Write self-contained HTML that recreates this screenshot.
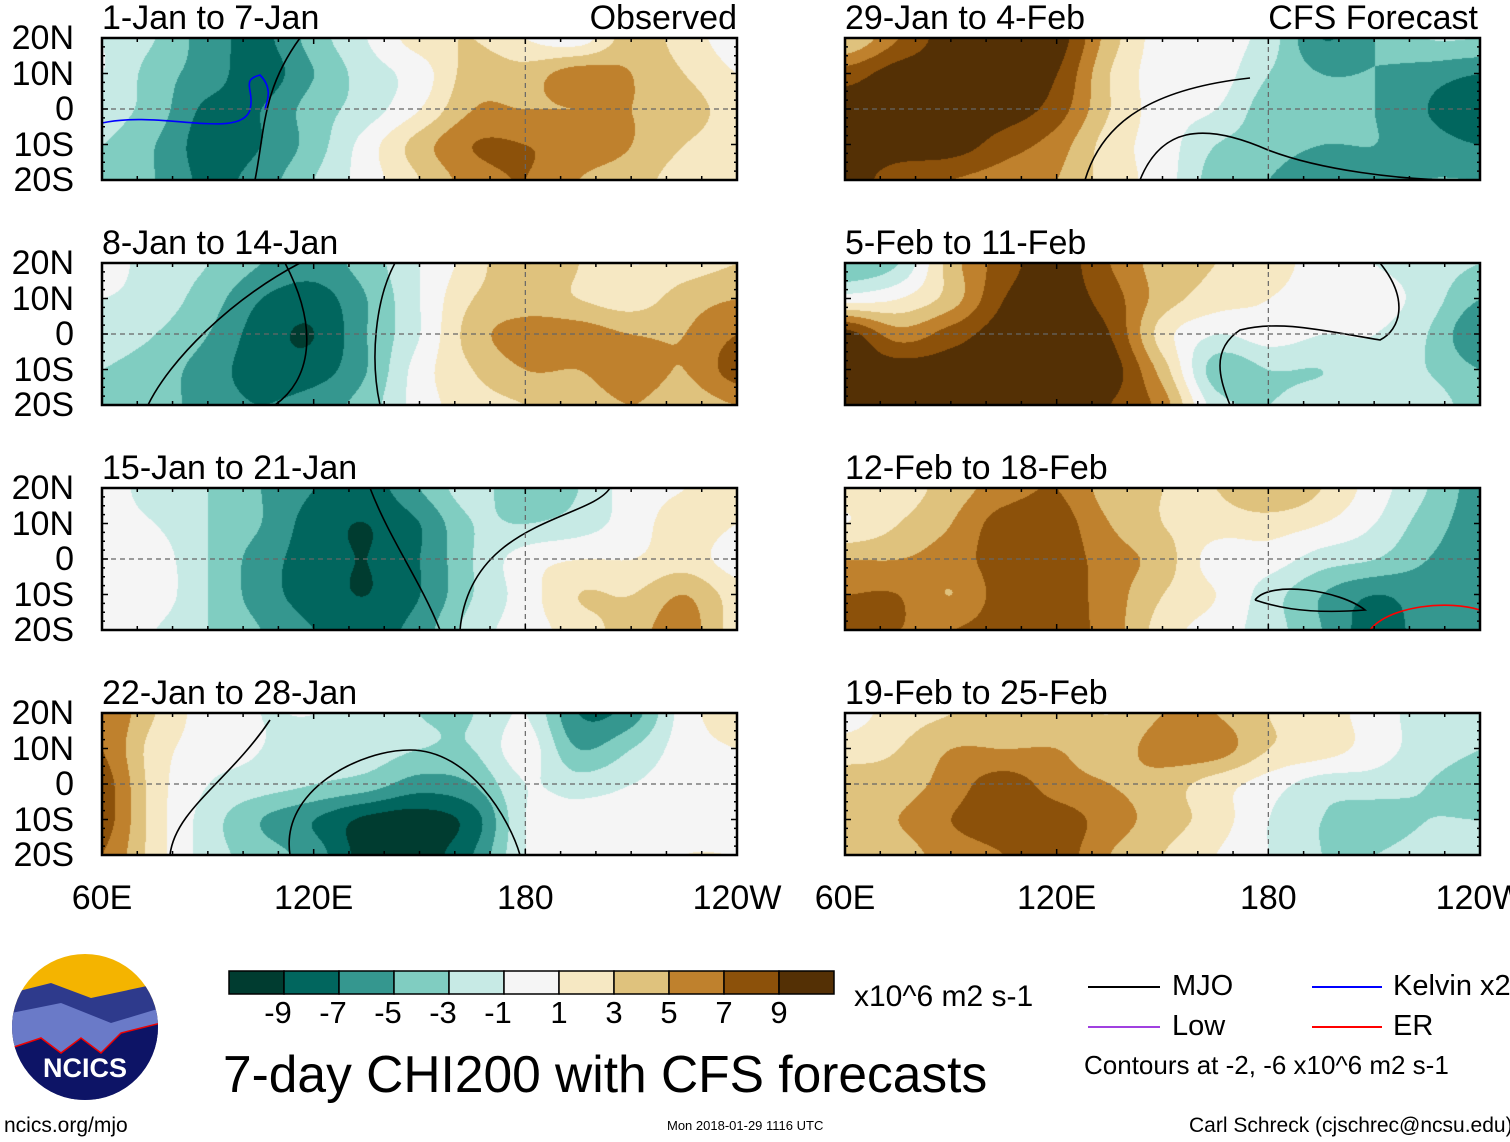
<!DOCTYPE html>
<html><head><meta charset="utf-8">
<style>
body{margin:0;background:#fff;width:1510px;height:1142px;position:relative;overflow:hidden;font-family:"Liberation Sans",sans-serif;color:#000}
.t{position:absolute;white-space:nowrap;line-height:1}
canvas{position:absolute}
svg{position:absolute;left:0;top:0}
</style></head><body>
<canvas id="c0" width="635" height="142" style="left:102px;top:38px"></canvas>
<canvas id="c1" width="635" height="142" style="left:102px;top:263px"></canvas>
<canvas id="c2" width="635" height="142" style="left:102px;top:488px"></canvas>
<canvas id="c3" width="635" height="142" style="left:102px;top:713px"></canvas>
<canvas id="c4" width="635" height="142" style="left:845px;top:38px"></canvas>
<canvas id="c5" width="635" height="142" style="left:845px;top:263px"></canvas>
<canvas id="c6" width="635" height="142" style="left:845px;top:488px"></canvas>
<canvas id="c7" width="635" height="142" style="left:845px;top:713px"></canvas>
<svg id="ov" width="1510" height="1142"></svg>
<div id="txt"></div>
<script>
const levels=[-9,-7,-5,-3,-1,1,3,5,7,9];
const colors=["#003c30","#01665e","#35978f","#80cdc1","#c7eae5","#f5f5f5","#f6e8c3","#dfc27d","#bf812d","#8c510a","#543005"];
const lons=[60,75,90,105,120,135,150,165,180,195,210,225,240];
const lats=[20,10,0,-10,-20];
const titles=["1-Jan to 7-Jan","8-Jan to 14-Jan","15-Jan to 21-Jan","22-Jan to 28-Jan","29-Jan to 4-Feb","5-Feb to 11-Feb","12-Feb to 18-Feb","19-Feb to 25-Feb"];
const p1=[[-1,-3,-6,-7.5,-4,-1,2,3,1,0,4,2,0],[-1,-4,-6,-8,-5,-2,0,4,4,6,5,3,1],[-2,-4,-7.5,-7,-4,-2,1,5,5,5,5,4,2],[-3,-5,-8,-7,-4,0,4,7,7,6,5,3,2],[-4,-5,-7.5,-6,-3,0,3,6,7,5,4,2,2]];
const p2=[[0,-2,-3,-5,-6,-4,-1,2,5,3,1,2,3],[-1,-2,-4,-7,-8,-5,-1,3,4,3,2,4,5],[-2,-3,-5,-8,-9,-5,-1,4,6,6,5,5,7],[-3,-4,-6,-8,-8,-5,0,3,5,5,6,5,8],[-3,-4,-6,-7,-6,-4,0,2,3,4,5,4,5]];
const p3=[[0,-2,-3,-5,-7,-8,-5,-2,-5,-3,0,1,2],[0,-1,-3,-5,-8,-9,-7,-3,-3,-2,0,2,1],[1,0,-3,-6,-8,-9,-7,-3,0,1,1,2,0],[0,0,-3,-6,-8,-9,-7,-3,0,3,3,5,2],[0,-1,-3,-5,-7,-8,-6,-2,0,2,4,6,2]];
const p4=[[7,3,0,-1,-1,-2,-3,-3,-1,-7,-6,0,2],[7,2,0,-1,-2,-2,-3,-3,0,-5,-3,0,1],[8,2,-1,-2,-3,-4,-6,-5,-1,-2,-1,0,0],[8,2,-2,-5,-7,-9.5,-10,-8,-1,0,0,0,0],[7,2,-2,-4,-6,-10,-10,-7,-1,0,0,1,1]];
const p5=[[3,7,10,10,10,4,0,0,-2,-7,-5,-3,-3],[8,10,10,10,9,3,0,0,-3,-5,-5,-6,-7],[10,10,10,10,8,3,0,-1,-4,-4,-5,-7,-9],[10,10,10,8,6,2,0,-3,-4,-5,-5,-6,-7],[10,8,7,6,5,2,0,-4,-5,-7,-6,-5,-5]];
const p6=[[-5,-3,4,8,10,7,4,3,2,0,-1,-2,-3],[0,1,4,9,10,8,4,2,1,0,0,-2,-5],[10,6,8,10,10,9,2,-1,0,-1,-1,-3,-7],[10,10,10,10,10,10,4,-4,-3,-3,-2,-3,-5],[10,10,10,10,10,9,6,-2,-3,-2,-2,-2,-4]];
const p7=[[2,2,4,6,7,4,3,3,5,3,0,-3,-6],[1,3,5,8,8,5,3,2,2,1,-1,-4,-6],[5,5,6,8,8,6,4,0,0,-2,-3,-5,-6],[7,7,5,8,8,6,3,1,-2,-5,-7,-6,-6],[7,7,7,8,8,6,2,0,-2,-5,-8,-6,-5]];
const p8=[[0,2,3,4,4,3,5,5,3,2,0,-2,-3],[2,3,5,5,5,4,6,6,3,2,0,-2,-3],[4,4,6,8,6,5,4,2,0,-2,-2,-3,-4],[4,5,7,8,8,6,4,2,-1,-3,-4,-3,-3],[3,4,6,7,8,5,3,1,-1,-3,-3,-2,-2]];
const panels=[p1,p2,p3,p4,p5,p6,p7,p8];
const xlab=["60E","120E","180","120W"];const xlabLon=[60,120,180,240];
const ylab=["20N","10N","0","10S","20S"];

const W=635,H=142;
const xS=lon=>(lon-60)/180*W;
const yS=lat=>(20-lat)/40*H;
function hex(c){return [parseInt(c.substr(1,2),16),parseInt(c.substr(3,2),16),parseInt(c.substr(5,2),16)];}
const rgb=colors.map(hex);
function cr(p0,p1,p2,p3,t){return 0.5*((2*p1)+(-p0+p2)*t+(2*p0-5*p1+4*p2-p3)*t*t+(-p0+3*p1-3*p2+p3)*t*t*t);}
function g_(g,j,i){j=Math.max(0,Math.min(4,j));i=Math.max(0,Math.min(12,i));return g[j][i];}
function val(g,lon,lat){
  let fi=(lon-60)/15, fj=(20-lat)/10;
  let i=Math.min(11,Math.max(0,Math.floor(fi))), j=Math.min(3,Math.max(0,Math.floor(fj)));
  let tx=fi-i, ty=fj-j;
  const r=[];
  for(let jj=-1;jj<=2;jj++)r.push(cr(g_(g,j+jj,i-1),g_(g,j+jj,i),g_(g,j+jj,i+1),g_(g,j+jj,i+2),tx));
  return cr(r[0],r[1],r[2],r[3],ty);
}
panels.forEach((g,k)=>{
  const cv=document.getElementById('c'+k),ctx=cv.getContext('2d');
  const im=ctx.createImageData(W,H);
  for(let y=0;y<H;y++)for(let x=0;x<W;x++){
    const v=val(g,60+x/W*180,20-y/H*40);
    let idx=0;while(idx<levels.length&&v>=levels[idx])idx++;
    const c=rgb[idx],p=(y*W+x)*4;
    im.data[p]=c[0];im.data[p+1]=c[1];im.data[p+2]=c[2];im.data[p+3]=255;
  }
  ctx.putImageData(im,0,0);
});
const ov=document.getElementById('ov'),NS="http://www.w3.org/2000/svg";
const txt=document.getElementById('txt');
function T(s,x,y,sz,name,anchor){const d=document.createElement('div');d.className='t';d.textContent=s;d.style.left=x+'px';d.style.top=y+'px';d.style.fontSize=sz+'px';if(anchor==='r')d.style.transform='translateX(-100%)';if(anchor==='c')d.style.transform='translateX(-50%)';


txt.appendChild(d);}
function L(x1,y1,x2,y2,st,w,dash){const l=document.createElementNS(NS,'line');l.setAttribute('x1',x1);l.setAttribute('y1',y1);l.setAttribute('x2',x2);l.setAttribute('y2',y2);l.setAttribute('stroke',st);l.setAttribute('stroke-width',w);if(dash)l.setAttribute('stroke-dasharray',dash);ov.appendChild(l);return l;}
function P(d,c,name){const p=document.createElementNS(NS,'path');p.setAttribute('d',d);p.setAttribute('fill','none');p.setAttribute('stroke',c);p.setAttribute('stroke-width',1.6);


ov.appendChild(p);}
P("M255 180 C265 130 262 90 300 38","#000",'mjo-contour');
P("M102 123 C160 110 240 140 250 110 C255 90 240 80 260 75 C275 90 265 105 265 110","#00f",'kelvin-contour');
P("M148 405 C170 360 230 300 300 263 M285 263 C320 330 310 380 275 405","#000",'mjo-contour');
P("M395 263 C375 300 370 360 380 405","#000",'mjo-contour');
P("M370 488 C390 540 420 580 440 630","#000",'mjo-contour');
P("M610 488 C590 520 470 520 460 630","#000",'mjo-contour');
P("M170 855 C175 810 230 780 270 720","#000",'mjo-contour');
P("M290 855 C280 790 360 750 410 750 C470 750 510 820 520 855","#000",'mjo-contour');
P("M1085 180 C1100 130 1140 90 1250 78 M1140 180 C1160 130 1200 120 1268 150 C1320 170 1400 180 1460 180","#000",'mjo-contour');
P("M1380 263 C1410 300 1400 330 1380 340 C1320 330 1280 320 1240 330 C1210 350 1220 380 1230 405","#000",'mjo-contour');
P("M1255 600 C1270 580 1340 590 1365 610 C1300 615 1270 605 1255 600","#000",'mjo-contour');
P("M1370 630 C1390 605 1450 600 1480 610","#f00",'er-contour');
const X0=[102,102,102,102,845,845,845,845],Y0=[38,263,488,713,38,263,488,713];
for(let k=0;k<8;k++){
  const x0=X0[k],y0=Y0[k];
  const e=L(x0,y0+yS(0),x0+W,y0+yS(0),'#666',1.2,'5,4');
  
  const m=L(x0+xS(180),y0,x0+xS(180),y0+H,'#666',1.2,'5,4');
  
  for(let lon=60;lon<=240;lon+=10){const big=lon%60===0;L(x0+xS(lon),y0,x0+xS(lon),y0+(big?6:4),'#000',1.5);L(x0+xS(lon),y0+H,x0+xS(lon),y0+H-(big?6:4),'#000',1.5);}
  for(let lat=-20;lat<=20;lat+=2.5){const big=lat%10===0;L(x0,y0+yS(lat),x0+(big?6:3),y0+yS(lat),'#000',1.5);L(x0+W,y0+yS(lat),x0+W-(big?6:3),y0+yS(lat),'#000',1.5);}
  const r=document.createElementNS(NS,'rect');r.setAttribute('x',x0);r.setAttribute('y',y0);r.setAttribute('width',W);r.setAttribute('height',H);r.setAttribute('fill','none');r.setAttribute('stroke','#000');r.setAttribute('stroke-width',2.5);
  
  
  ov.appendChild(r);
  T(titles[k],x0,y0-37,34,'panel-title');
  if(k<4) lats.forEach((la,i)=>T(ylab[i],74,y0+yS(la)-17,34,'y-tick-label','r'));
}
T("Observed",737,1,34,'observed-label','r');
T("CFS Forecast",1478,1,34,'cfs-forecast-label','r');
[0,4].forEach(k=>xlabLon.forEach((lo,i)=>T(xlab[i],X0[k]+xS(lo),881,34,'x-tick-label','c')));
const cbx=229,cby=971,cbw=55;
colors.forEach((c,i)=>{const r=document.createElementNS(NS,'rect');r.setAttribute('x',cbx+i*cbw);r.setAttribute('y',cby);r.setAttribute('width',cbw);r.setAttribute('height',23);r.setAttribute('fill',c);r.setAttribute('stroke','#000');r.setAttribute('stroke-width',1.5);


ov.appendChild(r);});
levels.forEach((v,i)=>T(String(v),cbx+(i+1)*cbw+(v<0?-6:0),997,31,'colorbar-label','c'));
L(1088,987,1160,987,'#000',2);T("MJO",1172,972,29,'legend-mjo');
L(1088,1027,1160,1027,'#a040e0',2);T("Low",1172,1012,29,'legend-low');
L(1312,987,1382,987,'#00f',2);T("Kelvin x2",1393,972,29,'legend-kelvin');
L(1312,1027,1382,1027,'#f00',2);T("ER",1393,1012,29,'legend-er');
T("Contours at -2, -6 x10^6 m2 s-1",1084,1052,26,'contour-note');
T("x10^6 m2 s-1",854,982,30,'colorbar-units');
T("7-day CHI200 with CFS forecasts",223,1049,51.5,'chart-title');
T("ncics.org/mjo",4,1115,21,'site-url');
T("Mon 2018-01-29 1116 UTC",667,1119,13,'timestamp');
T("Carl Schreck (cjschrec@ncsu.edu)",1189,1115,21,'author-credit');
</script>
<svg width="150" height="150" style="left:11px;top:953px">
<defs><clipPath id="cc"><circle cx="74" cy="74" r="73"/></clipPath></defs>
<g clip-path="url(#cc)">
<rect width="150" height="150" fill="#f4b400"/>
<path d="M0 40 L40 30 L80 45 L150 30 L150 150 L0 150Z" fill="#2e3a8c"/>
<path d="M0 60 L50 50 L100 70 L150 55 L150 150 L0 150Z" fill="#6a7ac8"/>
<path d="M0 95 L30 85 L50 100 L70 85 L90 100 L110 80 L150 70 L150 150 L0 150Z" fill="#0d1466" stroke="#e00" stroke-width="1.5"/>
</g>
<text x="74" y="124" text-anchor="middle" font-family="Liberation Sans" font-weight="bold" font-size="27" fill="#fff">NCICS</text>
</svg>
</body></html>
